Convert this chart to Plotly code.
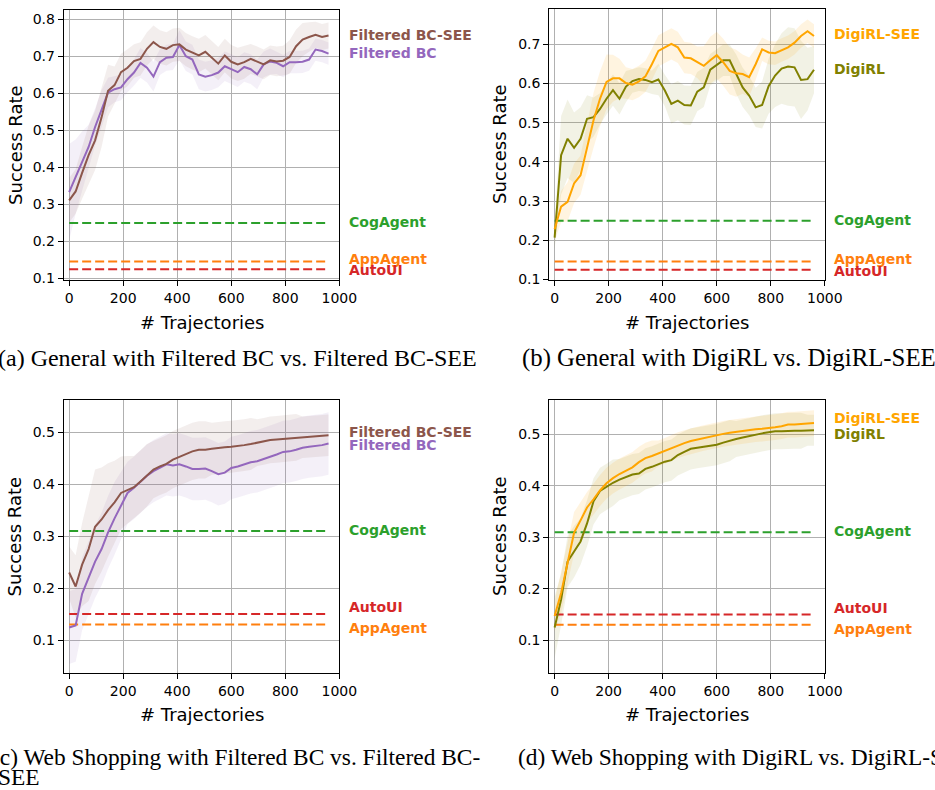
import plotly.graph_objects as go

# ---------------- data ----------------
traj = [0, 24, 48, 72, 96, 120, 144, 168, 192, 216,
        240, 264, 288, 312, 336, 360, 384, 408, 432, 456,
        480, 504, 528, 552, 576, 600, 624, 648, 672, 696,
        720, 744, 768, 792, 816, 840, 864, 888, 912, 936, 960]
x_ticks = [0, 200, 400, 600, 800, 1000]

# (a) General: Filtered BC vs Filtered BC-SEE
a_bc_see = [0.311, 0.335, 0.385, 0.433, 0.473, 0.535, 0.607, 0.622, 0.657, 0.669,
            0.687, 0.693, 0.720, 0.738, 0.725, 0.720, 0.730, 0.732, 0.718, 0.709,
            0.702, 0.712, 0.696, 0.680, 0.702, 0.685, 0.678, 0.684, 0.693, 0.686,
            0.678, 0.689, 0.686, 0.688, 0.698, 0.727, 0.745, 0.752, 0.758, 0.752, 0.756]
a_bc_see_sd = [0.06, 0.06, 0.07, 0.08, 0.08, 0.08, 0.07, 0.05, 0.05, 0.05,
               0.045, 0.045, 0.045, 0.045, 0.045, 0.045, 0.045, 0.045, 0.045, 0.045,
               0.045, 0.045, 0.045, 0.045, 0.045, 0.045, 0.045, 0.045, 0.04, 0.04,
               0.04, 0.04, 0.04, 0.04, 0.045, 0.045, 0.045, 0.04, 0.035, 0.035, 0.035]
a_bc = [0.333, 0.375, 0.417, 0.455, 0.509, 0.558, 0.602, 0.611, 0.616, 0.638,
        0.656, 0.682, 0.669, 0.645, 0.684, 0.696, 0.698, 0.730, 0.700, 0.691,
        0.651, 0.645, 0.649, 0.656, 0.673, 0.665, 0.657, 0.671, 0.665, 0.651,
        0.678, 0.686, 0.682, 0.673, 0.684, 0.684, 0.685, 0.691, 0.718, 0.714, 0.707]
a_bc_sd = [0.13, 0.10, 0.08, 0.06, 0.05, 0.05, 0.04, 0.035, 0.035, 0.035,
           0.035, 0.04, 0.04, 0.04, 0.035, 0.035, 0.035, 0.04, 0.04, 0.04,
           0.04, 0.04, 0.04, 0.04, 0.04, 0.04, 0.04, 0.04, 0.04, 0.04,
           0.035, 0.035, 0.03, 0.03, 0.03, 0.03, 0.03, 0.03, 0.03, 0.03, 0.03]

# (b) General: DigiRL vs DigiRL-SEE
b_rl_see = [0.228, 0.286, 0.298, 0.345, 0.366, 0.438, 0.506, 0.561, 0.604, 0.613,
            0.613, 0.601, 0.597, 0.605, 0.618, 0.649, 0.683, 0.692, 0.701, 0.692,
            0.666, 0.664, 0.654, 0.645, 0.659, 0.672, 0.654, 0.632, 0.626, 0.624,
            0.616, 0.649, 0.687, 0.679, 0.677, 0.685, 0.692, 0.704, 0.721, 0.733, 0.721]
b_rl_see_sd = [0.03, 0.04, 0.05, 0.05, 0.05, 0.06, 0.07, 0.07, 0.07, 0.06,
               0.05, 0.04, 0.04, 0.04, 0.04, 0.04, 0.04, 0.04, 0.04, 0.04,
               0.04, 0.04, 0.04, 0.05, 0.06, 0.06, 0.06, 0.06, 0.06, 0.05,
               0.05, 0.04, 0.03, 0.03, 0.03, 0.03, 0.03, 0.03, 0.03, 0.03, 0.03]
b_rl = [0.207, 0.417, 0.459, 0.436, 0.459, 0.510, 0.514, 0.535, 0.561, 0.583,
        0.561, 0.592, 0.606, 0.611, 0.609, 0.603, 0.610, 0.582, 0.548, 0.556,
        0.545, 0.544, 0.579, 0.590, 0.635, 0.647, 0.659, 0.659, 0.624, 0.590,
        0.569, 0.539, 0.545, 0.593, 0.620, 0.638, 0.643, 0.641, 0.609, 0.611, 0.635]
b_rl_sd = [0.03, 0.10, 0.10, 0.09, 0.08, 0.06, 0.05, 0.04, 0.04, 0.04,
           0.04, 0.04, 0.03, 0.03, 0.03, 0.03, 0.04, 0.04, 0.05, 0.05,
           0.05, 0.05, 0.05, 0.05, 0.04, 0.04, 0.04, 0.04, 0.05, 0.05,
           0.05, 0.05, 0.06, 0.07, 0.08, 0.09, 0.10, 0.10, 0.10, 0.08, 0.06]

# (c) Web Shopping: Filtered BC vs Filtered BC-SEE
c_bc_see = [0.230, 0.203, 0.245, 0.275, 0.318, 0.332, 0.350, 0.365, 0.383, 0.389,
            0.394, 0.405, 0.417, 0.428, 0.434, 0.439, 0.447, 0.452, 0.457, 0.463,
            0.466, 0.466, 0.468, 0.470, 0.471, 0.472, 0.473, 0.475, 0.477, 0.480,
            0.482, 0.485, 0.486, 0.487, 0.489, 0.490, 0.490, 0.491, 0.492, 0.494, 0.494]
c_bc_see_sd = [0.05, 0.06, 0.08, 0.10, 0.11, 0.10, 0.09, 0.08, 0.07, 0.065,
               0.06, 0.06, 0.06, 0.055, 0.055, 0.055, 0.055, 0.055, 0.055, 0.055,
               0.055, 0.055, 0.05, 0.05, 0.05, 0.05, 0.05, 0.05, 0.05, 0.045,
               0.045, 0.045, 0.045, 0.045, 0.045, 0.045, 0.04, 0.04, 0.04, 0.04, 0.04]
c_bc = [0.124, 0.128, 0.189, 0.219, 0.251, 0.275, 0.307, 0.334, 0.359, 0.383,
        0.393, 0.405, 0.416, 0.425, 0.432, 0.438, 0.436, 0.438, 0.434, 0.429,
        0.429, 0.430, 0.425, 0.419, 0.422, 0.431, 0.434, 0.438, 0.442, 0.444,
        0.448, 0.452, 0.457, 0.462, 0.463, 0.466, 0.470, 0.472, 0.473, 0.475, 0.478]
c_bc_sd = [0.07, 0.07, 0.07, 0.07, 0.07, 0.07, 0.07, 0.07, 0.065, 0.06,
           0.06, 0.06, 0.06, 0.06, 0.06, 0.06, 0.06, 0.06, 0.06, 0.06,
           0.06, 0.06, 0.06, 0.06, 0.06, 0.06, 0.06, 0.06, 0.06, 0.06,
           0.06, 0.06, 0.06, 0.06, 0.06, 0.06, 0.06, 0.06, 0.06, 0.06, 0.06]

# (d) Web Shopping: DigiRL vs DigiRL-SEE
d_rl_see = [0.147, 0.192, 0.250, 0.309, 0.333, 0.358, 0.374, 0.391, 0.405, 0.415,
            0.423, 0.429, 0.436, 0.446, 0.454, 0.458, 0.463, 0.468, 0.474, 0.479,
            0.483, 0.487, 0.490, 0.493, 0.496, 0.499, 0.501, 0.503, 0.505, 0.507,
            0.509, 0.510, 0.511, 0.512, 0.514, 0.516, 0.519, 0.519, 0.520, 0.521, 0.522]
d_rl_see_sd = [0.03, 0.04, 0.04, 0.04, 0.035, 0.03, 0.03, 0.03, 0.03, 0.03,
               0.03, 0.03, 0.03, 0.03, 0.03, 0.03, 0.025, 0.025, 0.025, 0.025,
               0.025, 0.025, 0.025, 0.025, 0.025, 0.025, 0.025, 0.025, 0.025, 0.025,
               0.025, 0.025, 0.025, 0.025, 0.025, 0.025, 0.025, 0.025, 0.025, 0.025, 0.025]
d_rl = [0.125, 0.179, 0.253, 0.272, 0.292, 0.327, 0.370, 0.390, 0.398, 0.406,
        0.412, 0.417, 0.422, 0.424, 0.433, 0.437, 0.442, 0.447, 0.450, 0.460,
        0.466, 0.472, 0.474, 0.476, 0.478, 0.480, 0.484, 0.488, 0.491, 0.494,
        0.497, 0.499, 0.502, 0.504, 0.506, 0.506, 0.507, 0.507, 0.507, 0.508, 0.508]
d_rl_sd = [0.06, 0.05, 0.05, 0.05, 0.045, 0.045, 0.045, 0.045, 0.045, 0.045,
           0.04, 0.04, 0.04, 0.04, 0.04, 0.04, 0.04, 0.04, 0.04, 0.04,
           0.04, 0.04, 0.04, 0.04, 0.04, 0.04, 0.04, 0.04, 0.035, 0.035,
           0.035, 0.035, 0.035, 0.035, 0.035, 0.035, 0.035, 0.035, 0.035, 0.03, 0.03]

# baselines
general_baselines = {"CogAgent": 0.25, "AppAgent": 0.146, "AutoUI": 0.125}
webshop_baselines = {"CogAgent": 0.31, "AutoUI": 0.15, "AppAgent": 0.13}

# label positions (data units) at right of each panel
a_labels = {"Filtered BC-SEE": 0.758, "Filtered BC": 0.71, "CogAgent": 0.253, "AppAgent": 0.154, "AutoUI": 0.122}
b_labels = {"DigiRL-SEE": 0.725, "DigiRL": 0.637, "CogAgent": 0.251, "AppAgent": 0.152, "AutoUI": 0.121}
c_labels = {"Filtered BC-SEE": 0.5, "Filtered BC": 0.475, "CogAgent": 0.311, "AutoUI": 0.163, "AppAgent": 0.123}
d_labels = {"DigiRL-SEE": 0.531, "DigiRL": 0.5, "CogAgent": 0.312, "AutoUI": 0.162, "AppAgent": 0.122}

captions = ["(a) General with Filtered BC vs. Filtered BC-SEE",
            "(b) General with DigiRL vs. DigiRL-SEE",
            "(c) Web Shopping with Filtered BC vs. Filtered BC-",
            "(d) Web Shopping with DigiRL vs. DigiRL-SEE"]
caption_c_line2 = "SEE"

# ---------------- styles ----------------
COL = {"Filtered BC-SEE": "#8c564b", "Filtered BC": "#9467bd",
       "DigiRL-SEE": "#ffa500", "DigiRL": "#808000",
       "CogAgent": "#2ca02c", "AppAgent": "#ff7f0e", "AutoUI": "#d62728"}
FILL = {"Filtered BC-SEE": "rgba(140,86,75,0.10)", "Filtered BC": "rgba(148,103,189,0.10)",
        "DigiRL-SEE": "rgba(255,165,0,0.12)", "DigiRL": "rgba(128,128,0,0.10)"}

W, H = 935, 790
# panel boxes in pixels: (left, right, top, bottom)
boxes = [(65, 346, 10, 283), (560, 841, 9, 283), (65, 346, 404, 679), (560, 841, 404, 679)]
yranges = [(0.0947, 0.825), (0.0975, 0.79), (0.0366, 0.561), (0.0365, 0.566)]
yticks = [[0.1, 0.2, 0.3, 0.4, 0.5, 0.6, 0.7, 0.8],
          [0.1, 0.2, 0.3, 0.4, 0.5, 0.6, 0.7],
          [0.1, 0.2, 0.3, 0.4, 0.5],
          [0.1, 0.2, 0.3, 0.4, 0.5]]

panels = [
    [("Filtered BC", a_bc, a_bc_sd), ("Filtered BC-SEE", a_bc_see, a_bc_see_sd)],
    [("DigiRL", b_rl, b_rl_sd), ("DigiRL-SEE", b_rl_see, b_rl_see_sd)],
    [("Filtered BC", c_bc, c_bc_sd), ("Filtered BC-SEE", c_bc_see, c_bc_see_sd)],
    [("DigiRL", d_rl, d_rl_sd), ("DigiRL-SEE", d_rl_see, d_rl_see_sd)],
]
baselines = [general_baselines, general_baselines, webshop_baselines, webshop_baselines]
labels = [a_labels, b_labels, c_labels, d_labels]

fig = go.Figure()
TICKFONT = dict(family="DejaVu Sans", size=14, color="black")
annotations = []

for i in range(4):
    sfx = "" if i == 0 else str(i + 1)
    xa, ya = "x" + sfx, "y" + sfx
    l, r, t, b = boxes[i]
    fig.update_layout({
        "xaxis" + sfx: dict(domain=[l / W, r / W], anchor=ya, range=[-20, 1000],
                            tickvals=x_ticks, ticks="outside", ticklen=5, tickwidth=1,
                            tickcolor="black", showline=True, linecolor="black", linewidth=1,
                            mirror=True, showgrid=True, gridcolor="#b0b0b0", gridwidth=1,
                            zeroline=False, tickfont=TICKFONT),
        "yaxis" + sfx: dict(domain=[1 - b / H, 1 - t / H], anchor=xa, range=list(yranges[i]),
                            tickvals=yticks[i], tickformat=".1f", ticks="outside", ticklen=5,
                            tickwidth=1, tickcolor="black", showline=True, linecolor="black",
                            linewidth=1, mirror=True, showgrid=True, gridcolor="#b0b0b0",
                            gridwidth=1, zeroline=False, tickfont=TICKFONT),
    })
    # bands
    for name, vals, sd in panels[i]:
        up = [v + s for v, s in zip(vals, sd)]
        lo = [v - s for v, s in zip(vals, sd)]
        fig.add_trace(go.Scatter(x=traj, y=up, xaxis=xa, yaxis=ya, mode="lines",
                                 line=dict(width=0, color=COL[name]), hoverinfo="skip",
                                 showlegend=False))
        fig.add_trace(go.Scatter(x=traj, y=lo, xaxis=xa, yaxis=ya, mode="lines",
                                 line=dict(width=0, color=COL[name]), fill="tonexty",
                                 fillcolor=FILL[name], hoverinfo="skip", showlegend=False))
    # baselines
    for name, v in baselines[i].items():
        fig.add_trace(go.Scatter(x=[traj[0], traj[-1]], y=[v, v], xaxis=xa, yaxis=ya,
                                 mode="lines", line=dict(color=COL[name], width=2, dash="9px,4px"),
                                 showlegend=False, name=name))
    # main curves
    for name, vals, sd in panels[i]:
        fig.add_trace(go.Scatter(x=traj, y=vals, xaxis=xa, yaxis=ya, mode="lines",
                                 line=dict(color=COL[name], width=2), showlegend=False, name=name))
    # right-side labels
    for name, yv in labels[i].items():
        annotations.append(dict(xref=xa + " domain", yref=ya, x=1.02, y=yv, text="<b>%s</b>" % name,
                                showarrow=False, xanchor="left", yanchor="middle", xshift=2,
                                font=dict(family="DejaVu Sans", size=14, color=COL[name])))
    # axis titles
    annotations.append(dict(xref="paper", yref="paper", x=(l + r) / 2 / W,
                            y=1 - (b + 42) / H, text="# Trajectories", showarrow=False,
                            xanchor="center", yanchor="middle",
                            font=dict(family="DejaVu Sans", size=18, color="black")))
    annotations.append(dict(xref="paper", yref="paper", x=(l - 50) / W,
                            y=1 - (t + b) / 2 / H, text="Success Rate", showarrow=False,
                            textangle=-90, xanchor="center", yanchor="middle",
                            font=dict(family="DejaVu Sans", size=18, color="black")))

cap_pos = [(-4, 361), (530, 361), (-10, 764), (526, 764)]
cap_size = [24, 24.8, 23.4, 23.4]
for (cx, cy), txt, fs in zip(cap_pos, captions, cap_size):
    annotations.append(dict(xref="paper", yref="paper", x=cx / W, y=1 - cy / H, text=txt,
                            showarrow=False, xanchor="left", yanchor="middle",
                            font=dict(family="Liberation Serif", size=fs, color="black")))
annotations.append(dict(xref="paper", yref="paper", x=-4 / W, y=1 - 784 / H, text=caption_c_line2,
                        showarrow=False, xanchor="left", yanchor="middle",
                        font=dict(family="Liberation Serif", size=23.4, color="black")))

fig.update_layout(width=W, height=H, margin=dict(l=0, r=0, t=0, b=0),
                  plot_bgcolor="white", paper_bgcolor="white", showlegend=False,
                  annotations=annotations)

fig.write_html("out.html", config={"displayModeBar": False},
               post_script="document.body.style.margin='0';")
